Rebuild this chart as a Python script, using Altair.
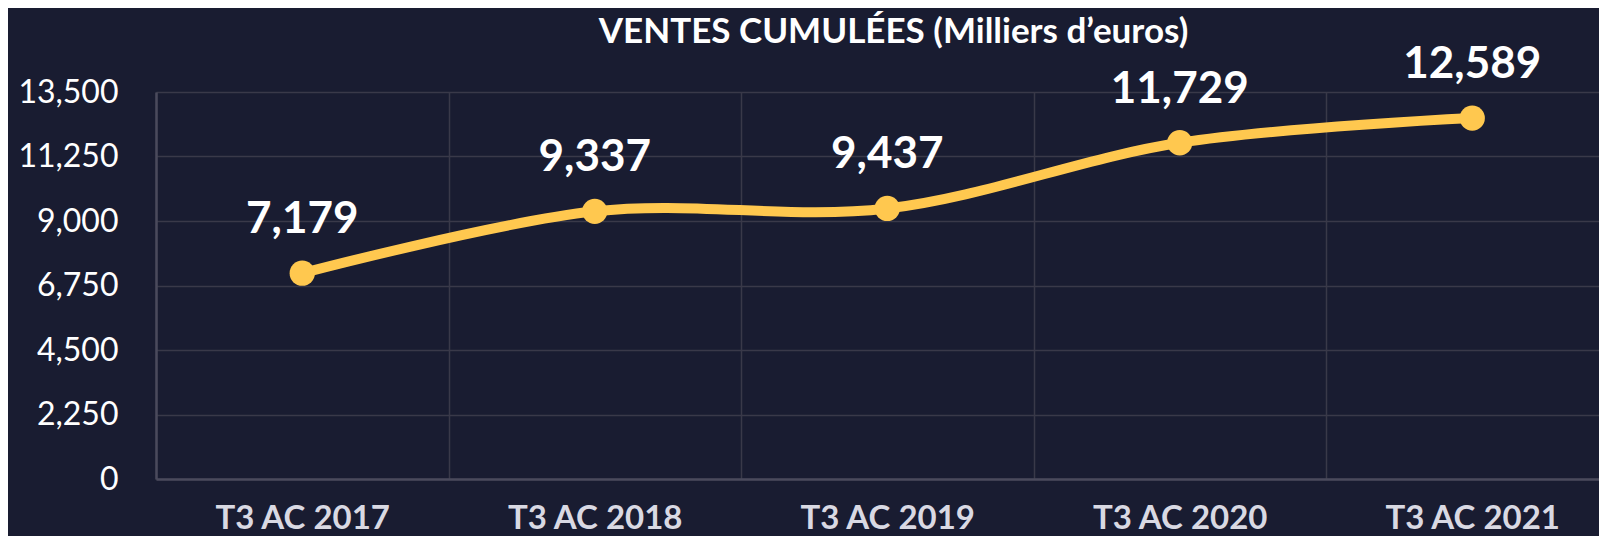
import altair as alt
import pandas as pd

categories = ["T3 AC 2017", "T3 AC 2018", "T3 AC 2019", "T3 AC 2020", "T3 AC 2021"]
values = [7179, 9337, 9437, 11729, 12589]
y_ticks = [0, 2250, 4500, 6750, 9000, 11250, 13500]

df = pd.DataFrame({"cat": categories, "val": values})

BG = "#191c31"
LINE = "#ffc84f"
GRID = "#393949"
DOMAIN = "#4a4a5c"
FONT = "Lato"

x_enc = alt.X(
    "cat:N",
    sort=categories,
    bandPosition=0.5,
    scale=alt.Scale(type="band", range=[0, 1462.5], paddingInner=0, paddingOuter=0),
    axis=alt.Axis(
        title=None,
        tickBand="extent",
        grid=True,
        gridColor=GRID,
        gridWidth=1.5,
        domain=True,
        domainColor=DOMAIN,
        domainWidth=2.5,
        ticks=False,
        labelFont=FONT,
        labelFontSize=33,
        labelFontWeight="bold",
        labelColor="#d9d9e3",
        labelPadding=23,
        labelAngle=0,
    ),
)
y_enc = alt.Y(
    "val:Q",
    scale=alt.Scale(domain=[0, 13500], nice=False),
    axis=alt.Axis(
        title=None,
        values=y_ticks,
        format=",d",
        grid=True,
        gridColor=GRID,
        gridWidth=1.5,
        domain=True,
        domainColor=DOMAIN,
        domainWidth=2.5,
        ticks=False,
        labelFont=FONT,
        labelFontSize=32,
        labelColor="#ffffff",
        labelPadding=38,
    ),
)

base = alt.Chart(df).encode(x=x_enc, y=y_enc)

line = base.mark_line(color=LINE, strokeWidth=10, interpolate="cardinal", tension=0)
points = base.mark_circle(color=LINE, size=640, opacity=1)
labels = base.mark_text(
    font=FONT, fontSize=44, fontWeight="bold", color="#ffffff",
    baseline="alphabetic", dy=-40,
).encode(text=alt.Text("val:Q", format=",d"))

chart = (
    alt.layer(line, points, labels)
    .properties(
        width=1443,
        height=387,
        background=BG,
        padding={"left": 148, "top": 84, "right": 0, "bottom": 57},
        autosize=alt.AutoSizeParams(type="none"),
        title=alt.TitleParams(
            "VENTES CUMULÉES (Milliers d’euros)",
            font=FONT, fontSize=35, fontWeight="bold", color="#ffffff",
            anchor="middle", frame="group", baseline="alphabetic", offset=0, dy=35, dx=16,
        ),
    )
    .configure_view(stroke=None)
)

chart.save("out.html", embed_options={"renderer": "svg", "actions": False})
